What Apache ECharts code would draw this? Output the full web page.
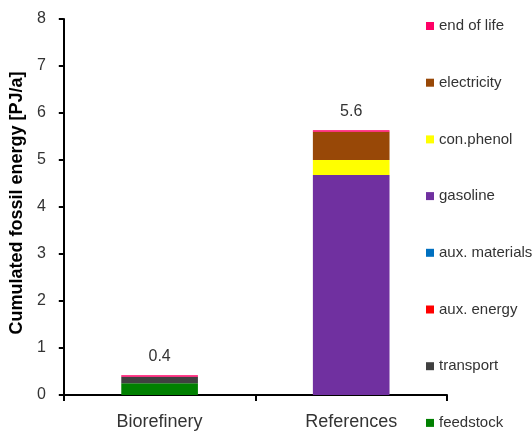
<!DOCTYPE html>
<html>
<head>
<meta charset="utf-8">
<script src="https://cdn.jsdelivr.net/npm/echarts@6/dist/echarts.min.js"></script>
<style>html,body{margin:0;padding:0;background:#fff}#c{width:532px;height:434px}</style>
</head>
<body>
<div id="c"></div>
<script>
const categories = ['Biorefinery', 'References'];
const seriesNames = ['feedstock', 'transport', 'aux. energy', 'aux. materials', 'gasoline', 'con.phenol', 'electricity', 'end of life'];
const seriesColors = ['#008000', '#404040', '#FF0000', '#0070C0', '#7030A0', '#FFFF00', '#984807', '#FF0066'];
const feedstock = [0.25, 0];
const transport = [0.14, 0];
const auxEnergy = [0, 0];
const auxMaterials = [0, 0];
const gasoline = [0, 4.68];
const conPhenol = [0, 0.32];
const electricity = [0, 0.60];
const endOfLife = [0.03, 0.035];
const yTicks = [0, 1, 2, 3, 4, 5, 6, 7, 8];
const yTitle = 'Cumulated fossil energy [PJ/a]';

const values = [feedstock, transport, auxEnergy, auxMaterials, gasoline, conPhenol, electricity, endOfLife];
const totals = categories.map((c, i) => values.reduce((s, arr) => s + arr[i], 0));

const FONT = 'Liberation Sans';
const TXT = '#333333';

const series = seriesNames.map((name, k) => {
  const s = {
    name: name,
    type: 'bar',
    stack: 'total',
    barWidth: '40%',
    itemStyle: { color: seriesColors[k] },
    data: values[k],
    emphasis: { disabled: true }
  };
  if (k === seriesNames.length - 1) {
    s.label = {
      show: true,
      position: 'top',
      distance: 11,
      fontFamily: FONT,
      fontSize: 16,
      color: TXT,
      formatter: p => totals[p.dataIndex].toFixed(1)
    };
  }
  return s;
});

const legendTop0 = 17;
const legendStep = 56.7;
const legends = seriesNames.slice().reverse().map((name, i) => ({
  data: [name],
  orient: 'vertical',
  left: 426,
  top: legendTop0 + i * legendStep,
  itemWidth: 8,
  itemHeight: 8,
  itemGap: 0,
  padding: 0,
  icon: 'rect',
  selectedMode: false,
  textStyle: { fontFamily: FONT, fontSize: 15, color: TXT, lineHeight: 18 }
}));

const chart = echarts.init(document.getElementById('c'), null, { renderer: 'canvas' });
chart.setOption({
  animation: false,
  backgroundColor: '#fff',
  grid: { left: 62, right: 85, top: 19, bottom: 39, containLabel: false },
  legend: legends,
  xAxis: {
    type: 'category',
    data: categories,
    axisLine: { lineStyle: { color: '#000', width: 2 } },
    axisTick: { show: true, length: 6, lineStyle: { color: '#000', width: 2 } },
    axisLabel: { fontFamily: FONT, fontSize: 18, color: TXT, margin: 18 }
  },
  yAxis: {
    type: 'value',
    min: yTicks[0],
    max: yTicks[yTicks.length - 1],
    interval: 1,
    name: yTitle,
    nameLocation: 'middle',
    nameGap: 31,
    nameTextStyle: { fontFamily: FONT, fontSize: 18, fontWeight: 'bold', color: '#000', padding: [0, 0, 0, 8] },
    axisLine: { show: true, lineStyle: { color: '#000', width: 2 } },
    axisTick: { show: true, length: 5, lineStyle: { color: '#000', width: 2 } },
    splitLine: { show: false },
    axisLabel: { fontFamily: FONT, fontSize: 16, color: TXT, margin: 18 }
  },
  series: series
});
</script>
</body>
</html>
